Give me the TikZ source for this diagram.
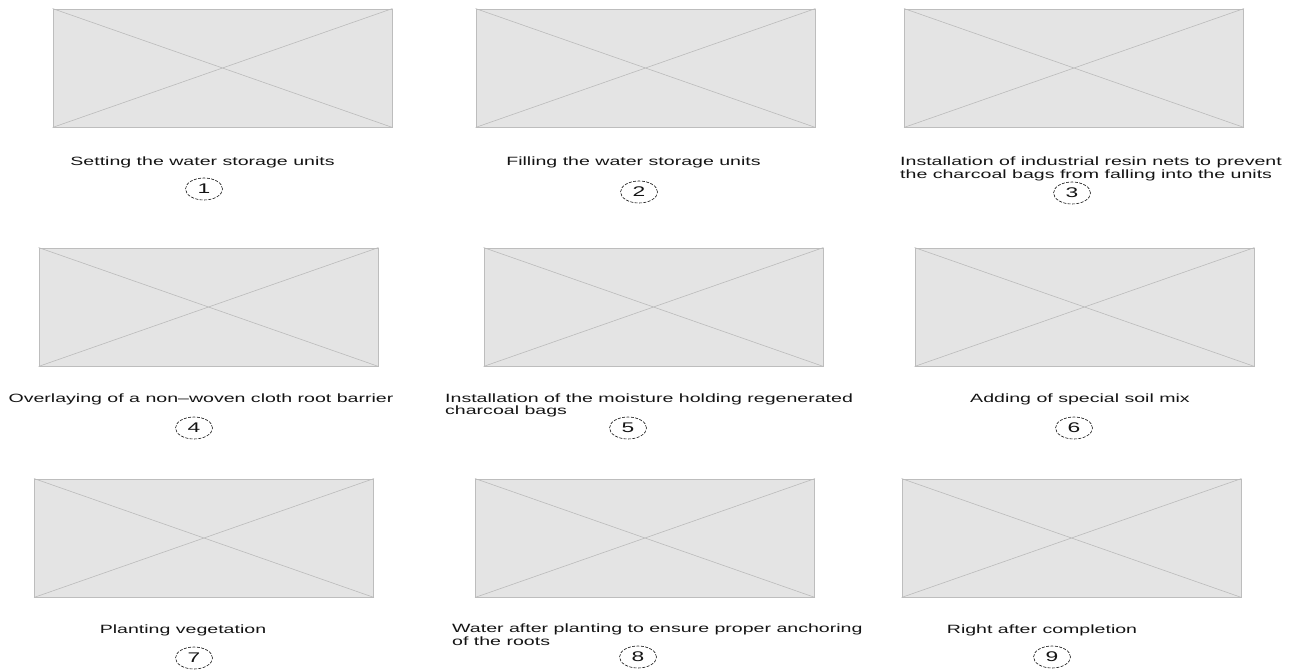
\documentclass[tikz,border=0pt]{standalone}
\usepackage{fontspec}
\usetikzlibrary{shapes.geometric}
\newfontfamily\widesans[FakeStretch=1.63]{Liberation Sans}
\definecolor{phfill}{HTML}{E4E4E4}
\definecolor{phline}{HTML}{BDBDBD}
\definecolor{phdiag}{HTML}{BBBBBB}
\definecolor{txt}{HTML}{141414}
\tikzset{
  ph/.style={rectangle, draw=phline, fill=phfill, line width=0.9pt,
    minimum width=339pt, minimum height=118pt, inner sep=0pt},
  diag/.style={draw=phdiag, line width=0.6pt},
  lbl/.style={inner sep=0pt, text=txt, font=\widesans\fontsize{12}{12.5}\selectfont, align=left},
  num/.style={ellipse, draw=txt, line width=0.6pt, dash pattern=on 3pt off 1.4pt,
    minimum width=37pt, minimum height=22pt, inner sep=0pt, text=txt,
    font=\widesans\fontsize{14}{14}\selectfont}
}
\begin{document}
\begin{tikzpicture}[x=1pt,y=-1pt]
\useasboundingbox (0,0) rectangle (1296,670);
% placeholders
\node[ph] (b1) at (222.5,68) {};
\node[ph] (b2) at (645.5,68) {};
\node[ph] (b3) at (1074,68) {};
\node[ph] (b4) at (208.5,307) {};
\node[ph] (b5) at (653.5,307) {};
\node[ph] (b6) at (1084.5,307) {};
\node[ph] (b7) at (204,538) {};
\node[ph] (b8) at (645,538) {};
\node[ph] (b9) at (1071.5,538) {};
\foreach \b in {b1,b2,b3,b4,b5,b6,b7,b8,b9}{
  \draw[diag] (\b.north west) -- (\b.south east);
  \draw[diag] (\b.south west) -- (\b.north east);
}
% captions
\node[lbl, anchor=base] (t1) at (202.5,165) {Setting the water storage units};
\node[lbl, anchor=base] (t2) at (633.5,165) {Filling the water storage units};
\node[lbl, anchor=base west] (t3) at (900,178) {Installation of industrial resin nets to prevent\\the charcoal bags from falling into the units};
\node[lbl, anchor=base] (t4) at (201,402) {Overlaying of a non–woven cloth root barrier};
\node[lbl, anchor=base west] (t5) at (445,414.5) {Installation of the moisture holding regenerated\\charcoal bags};
\node[lbl, anchor=base] (t6) at (1080,402) {Adding of special soil mix};
\node[lbl, anchor=base] (t7) at (183,633) {Planting vegetation};
\node[lbl, anchor=base west] (t8) at (452,645) {Water after planting to ensure proper anchoring\\of the roots};
\node[lbl, anchor=base] (t9) at (1042,633) {Right after completion};
% step numbers
\node[num] (c1) at (204,189) {1};
\node[num] (c2) at (639,192) {2};
\node[num] (c3) at (1072,193) {3};
\node[num] (c4) at (194,428) {4};
\node[num] (c5) at (628,428) {5};
\node[num] (c6) at (1074,428) {6};
\node[num] (c7) at (194,658) {7};
\node[num] (c8) at (638,657) {8};
\node[num] (c9) at (1052,657) {9};
\end{tikzpicture}
\end{document}
